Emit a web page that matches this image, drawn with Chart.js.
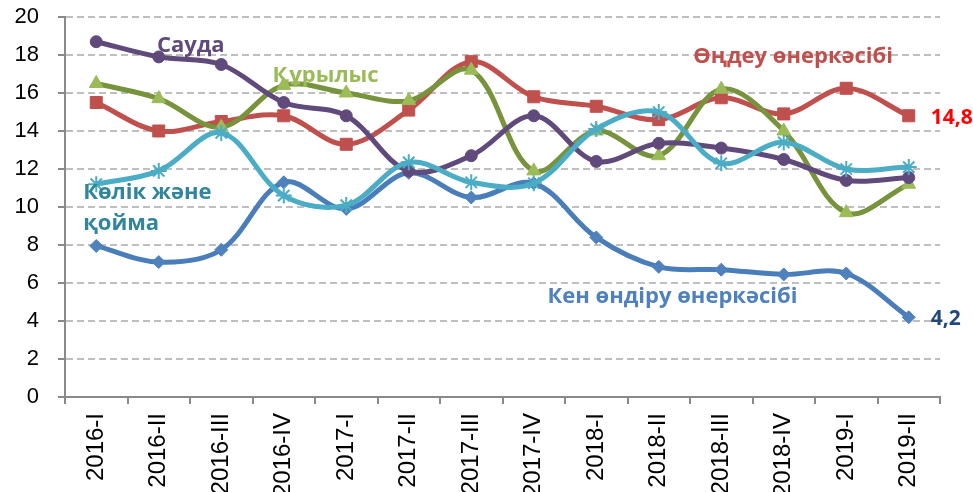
<!DOCTYPE html>
<html lang="kk">
<head>
    <meta charset="UTF-8">
    <title>Салалар бойынша үлес</title>
    <script src="https://cdn.jsdelivr.net/npm/chart.js"></script>
    <style>
        body { margin: 0; background: #fff; }
        #chart-box { width: 973px; height: 492px; }
    </style>
</head>
<body>
    <div id="chart-box">
        <canvas id="industryChart" width="973" height="492"></canvas>
    </div>

    <script>
        // Quarters on the x axis
        const quarters = ['2016-I', '2016-II', '2016-III', '2016-IV', '2017-I', '2017-II', '2017-III',
                          '2017-IV', '2018-I', '2018-II', '2018-III', '2018-IV', '2019-I', '2019-II'];

        // Series values
        const kenValues     = [7.95, 7.1, 7.75, 11.3, 9.9, 11.8, 10.5, 11.25, 8.4, 6.85, 6.7, 6.45, 6.5, 4.2];
        const ondeuValues   = [15.5, 14.0, 14.5, 14.8, 13.3, 15.1, 17.65, 15.8, 15.3, 14.6, 15.75, 14.9, 16.25, 14.8];
        const qurylysValues = [16.5, 15.7, 14.2, 16.4, 16.0, 15.6, 17.2, 11.9, 14.0, 12.7, 16.2, 14.0, 9.7, 11.2];
        const saudaValues   = [18.7, 17.9, 17.5, 15.5, 14.8, 11.9, 12.7, 14.8, 12.4, 13.35, 13.1, 12.5, 11.4, 11.55];
        const kolikValues   = [11.2, 11.9, 13.9, 10.6, 10.1, 12.35, 11.3, 11.25, 14.1, 15.0, 12.3, 13.4, 12.0, 12.1];

        const yTicks = { min: 0, max: 20, step: 2 };

        // Series name labels written on the plot
        const notes = [
            { text: 'Сауда', at: 0.97, value: 18.16, color: '#604A7B' },
            { text: 'Құрылыс', at: 2.82, value: 16.58, color: '#9BBB59' },
            { text: 'Өңдеу өнеркәсібі', at: 9.55, value: 17.58, color: '#C0504D' },
            { text: 'Көлік және', at: -0.21, value: 10.42, color: '#31859C' },
            { text: 'қойма', at: -0.21, value: 8.79, color: '#31859C' },
            { text: 'Кен өндіру өнеркәсібі', at: 7.22, value: 4.95, color: '#4F81BD' }
        ];

        // Value labels at the end of two lines
        const endLabels = [
            { values: ondeuValues, color: '#FF0000' },
            { values: kenValues, color: '#1F497D' }
        ];

        const textLabels = {
            id: 'textLabels',
            afterDatasetsDraw(chart) {
                const { ctx, scales: { x, y } } = chart;
                ctx.save();
                ctx.textAlign = 'left';
                ctx.textBaseline = 'alphabetic';
                ctx.font = 'bold 22px "Open Sans"';
                notes.forEach(n => {
                    ctx.fillStyle = n.color;
                    ctx.fillText(n.text, x.getPixelForValue(n.at), y.getPixelForValue(n.value));
                });
                ctx.font = 'bold 21px "Open Sans"';
                endLabels.forEach(l => {
                    const last = l.values.length - 1;
                    const v = l.values[last];
                    ctx.fillStyle = l.color;
                    ctx.fillText(String(v).replace('.', ','), x.getPixelForValue(last) + 22, y.getPixelForValue(v) + 8);
                });
                ctx.restore();
            }
        };

        function series(label, data, lineColor, pointColor, style, radius) {
            return {
                label: label,
                data: data,
                borderColor: lineColor,
                backgroundColor: pointColor,
                borderWidth: 5,
                tension: 0.35,
                pointStyle: style,
                pointRadius: radius,
                pointBackgroundColor: pointColor,
                pointBorderColor: pointColor,
                pointBorderWidth: style === 'star' ? 2 : 1
            };
        }

        const ctx = document.getElementById('industryChart').getContext('2d');
        const chart = new Chart(ctx, {
            type: 'line',
            data: {
                labels: quarters,
                // first dataset is drawn on top
                datasets: [
                    series('Көлік және қойма', kolikValues, '#4BACC6', '#4BACC6', 'star', 8),
                    series('Сауда', saudaValues, '#604A7B', '#604A7B', 'circle', 6),
                    series('Құрылыс', qurylysValues, '#77933C', '#9BBB59', 'triangle', 8),
                    series('Өңдеу өнеркәсібі', ondeuValues, '#C0504D', '#C0504D', 'rect', 8.5),
                    series('Кен өндіру өнеркәсібі', kenValues, '#4A7EBB', '#4F81BD', 'rectRot', 6.5)
                ]
            },
            options: {
                responsive: false,
                animation: false,
                layout: { padding: { top: 17, right: 33, left: 0, bottom: 0 } },
                plugins: {
                    legend: { display: false },
                    tooltip: { enabled: false }
                },
                scales: {
                    x: {
                        offset: true,
                        grid: {
                            offset: true,
                            drawOnChartArea: false,
                            drawTicks: true,
                            tickLength: 7,
                            color: '#898989',
                            lineWidth: 2
                        },
                        border: { color: '#898989', width: 2 },
                        ticks: {
                            autoSkip: false,
                            minRotation: 90,
                            maxRotation: 90,
                            padding: 9,
                            color: '#000',
                            font: { family: '"Liberation Sans"', size: 24 }
                        },
                        afterFit(scale) {
                            scale.height = 95;
                            scale.paddingLeft = 0;
                            scale.paddingRight = 0;
                        }
                    },
                    y: {
                        min: yTicks.min,
                        max: yTicks.max,
                        grid: {
                            color: '#BFBFBF',
                            lineWidth: 2,
                            tickColor: '#898989',
                            tickLength: 7,
                            tickBorderDash: []
                        },
                        border: { color: '#898989', width: 2, dash: [7, 4] },
                        ticks: {
                            stepSize: yTicks.step,
                            padding: 19,
                            color: '#000',
                            font: { family: '"Liberation Sans"', size: 22 }
                        },
                        afterFit(scale) {
                            scale.width = 65;
                            scale.paddingTop = 0;
                            scale.paddingBottom = 0;
                        }
                    }
                }
            },
            plugins: [textLabels]
        });
    </script>
</body>
</html>
